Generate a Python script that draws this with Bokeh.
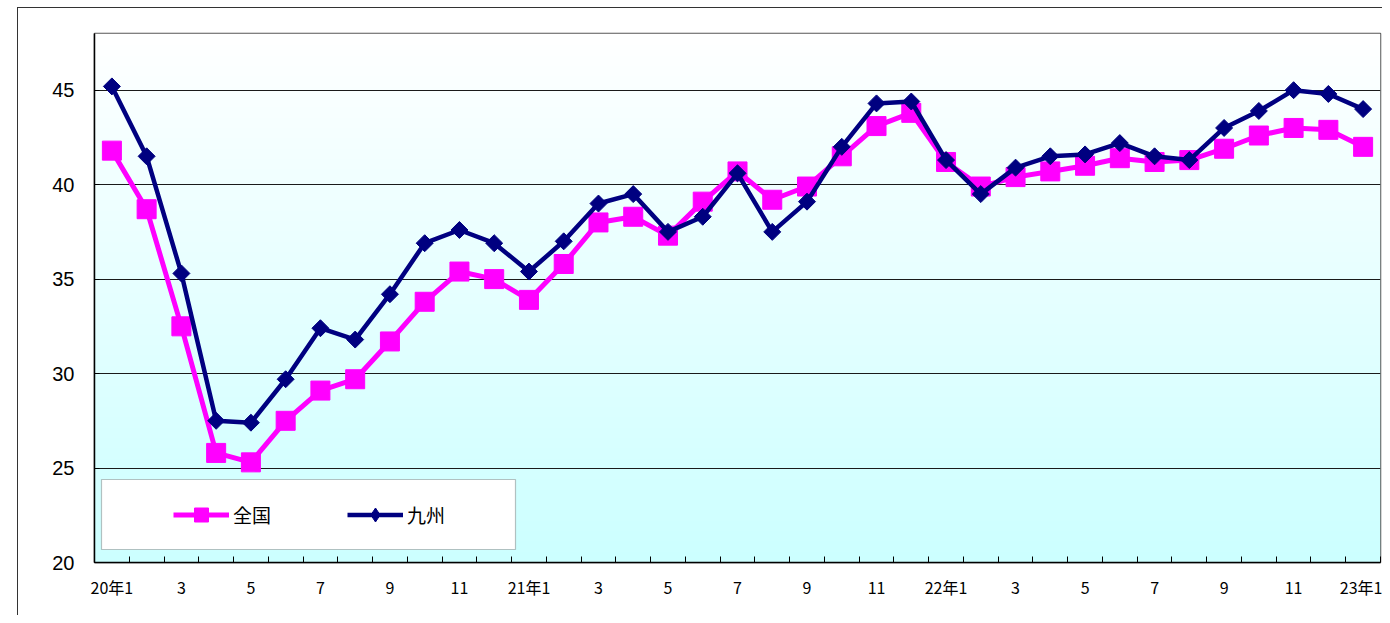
import numpy as np
from bokeh.plotting import figure
from bokeh.models import FixedTicker, Legend, LegendItem, BoxAnnotation, Label, Range1d
from bokeh.embed import file_html
from bokeh.resources import INLINE

# ---- data ----
categories = ["20年1", "2", "3", "4", "5", "6", "7", "8", "9", "10", "11", "12",
              "21年1", "2", "3", "4", "5", "6", "7", "8", "9", "10", "11", "12",
              "22年1", "2", "3", "4", "5", "6", "7", "8", "9", "10", "11", "12",
              "23年1"]
zenkoku = [41.8, 38.7, 32.5, 25.8, 25.3, 27.5, 29.1, 29.7, 31.7, 33.8, 35.4, 35.0,
           33.9, 35.8, 38.0, 38.3, 37.3, 39.1, 40.7, 39.2, 39.9, 41.5, 43.1, 43.8,
           41.2, 39.9, 40.4, 40.7, 41.0, 41.4, 41.2, 41.3, 41.9, 42.6, 43.0, 42.9,
           42.0]
kyushu = [45.2, 41.5, 35.3, 27.5, 27.4, 29.7, 32.4, 31.8, 34.2, 36.9, 37.6, 36.9,
          35.4, 37.0, 39.0, 39.5, 37.5, 38.3, 40.6, 37.5, 39.1, 42.0, 44.3, 44.4,
          41.3, 39.5, 40.9, 41.5, 41.6, 42.2, 41.5, 41.3, 43.0, 43.9, 45.0, 44.8,
          44.0]
series_names = ["全国", "九州"]
y_ticks = [20, 25, 30, 35, 40, 45]
y_min, y_max = 20, 48
title_text = "【業況DI】"

n = len(categories)
xs = list(range(n))
label_idx = [i for i in xs if i % 2 == 0]

W, H = 1382, 615
p = figure(width=W, height=H, output_backend="svg", toolbar_location=None,
           x_range=Range1d(-0.5, n - 0.5), y_range=Range1d(y_min, y_max),
           min_border_left=94, min_border_right=2, min_border_top=33, min_border_bottom=53)
p.background_fill_color = "white"
p.border_fill_color = None
p.outline_line_color = "#555555"
p.outline_line_width = 1.5
# outer chart-area frame (left and top edges), drawn behind the transparent border
p.styles = {
    "background": ("linear-gradient(#333,#333) 17px 7px / 1px 100% no-repeat, "
                   "linear-gradient(#333,#333) 17px 7px / 100% 1px no-repeat, white"),
}

# gradient background (white top -> light cyan bottom)
N = 256
t = np.linspace(0, 1, N)
img = np.empty((N, 1), dtype=np.uint32)
view = img.view(dtype=np.uint8).reshape((N, 1, 4))
view[:, 0, 0] = (204 + (255 - 204) * t).astype(np.uint8)
view[:, 0, 1] = 255
view[:, 0, 2] = 255
view[:, 0, 3] = 255
p.image_rgba(image=[img], x=-0.5, y=y_min, dw=n, dh=y_max - y_min, level="image")

# grid
p.xgrid.visible = False
p.ygrid.ticker = FixedTicker(ticks=y_ticks[1:])
p.ygrid.grid_line_color = "#1a1a1a"
p.ygrid.grid_line_width = 1

# axes
xa = p.xaxis[0]
xa.ticker = FixedTicker(ticks=label_idx, minor_ticks=[i - 0.5 for i in range(n + 1)])
xa.major_label_overrides = {i: categories[i] for i in label_idx}
xa.major_tick_in = 0
xa.major_tick_out = 0
xa.minor_tick_in = 6
xa.minor_tick_out = 0
xa.minor_tick_line_color = "black"
xa.axis_line_color = "black"
xa.axis_line_width = 1.5
xa.major_label_text_font = "Noto Sans CJK JP"
xa.major_label_text_font_size = "16px"
xa.major_label_text_color = "black"
xa.major_label_standoff = 12

ya = p.yaxis[0]
ya.ticker = FixedTicker(ticks=y_ticks)
ya.major_tick_in = 5
ya.major_tick_out = 0
ya.minor_tick_line_color = None
ya.axis_line_color = "black"
ya.axis_line_width = 1.5
ya.major_label_text_font = "Liberation Sans"
ya.major_label_text_font_size = "20px"
ya.major_label_text_color = "black"
ya.major_label_standoff = 20

# series
l1 = p.line(xs, zenkoku, line_color="#ff00ff", line_width=5)
s1 = p.scatter(xs, zenkoku, marker="square", size=19, fill_color="#ff00ff", line_color="#ff00ff")
l2 = p.line(xs, kyushu, line_color="#000080", line_width=4.5)
s2 = p.scatter(xs, kyushu, marker="diamond", size=12, fill_color="#000080", line_color="#000080")
p.scatter(xs, kyushu, marker="square", angle=np.pi / 4, size=12,
          fill_color="#000080", line_color="#000080")

# legend box
px_x = 1286 / n
px_y = 529 / (y_max - y_min)
box = BoxAnnotation(left=-0.5 + 7 / px_x, right=-0.5 + 421 / px_x,
                    bottom=y_min + 13 / px_y, top=y_min + 83 / px_y,
                    fill_color="white", fill_alpha=1, line_color="#333333", line_width=1.2)
p.add_layout(box)

legend = Legend(items=[LegendItem(label=series_names[0], renderers=[l1, s1]),
                       LegendItem(label=series_names[1], renderers=[l2, s2])],
                orientation="horizontal", location=(79, 30),
                glyph_width=56, glyph_height=35, label_width=114, spacing=0,
                padding=0, margin=0, border_line_alpha=0, background_fill_alpha=0,
                label_text_font="Noto Sans CJK JP", label_text_font_size="19px",
                label_text_color="black", label_standoff=4)
p.add_layout(legend, "center")

# title (cut off at the top edge, as in the source)
title = Label(x=-67, y=557, x_units="screen", y_units="screen", text=title_text,
              text_color="#0000ff", text_font_style="bold", text_font_size="22px",
              text_font="Noto Sans CJK JP", text_baseline="alphabetic")
p.add_layout(title)

open("out.html", "w").write(file_html(p, INLINE))
